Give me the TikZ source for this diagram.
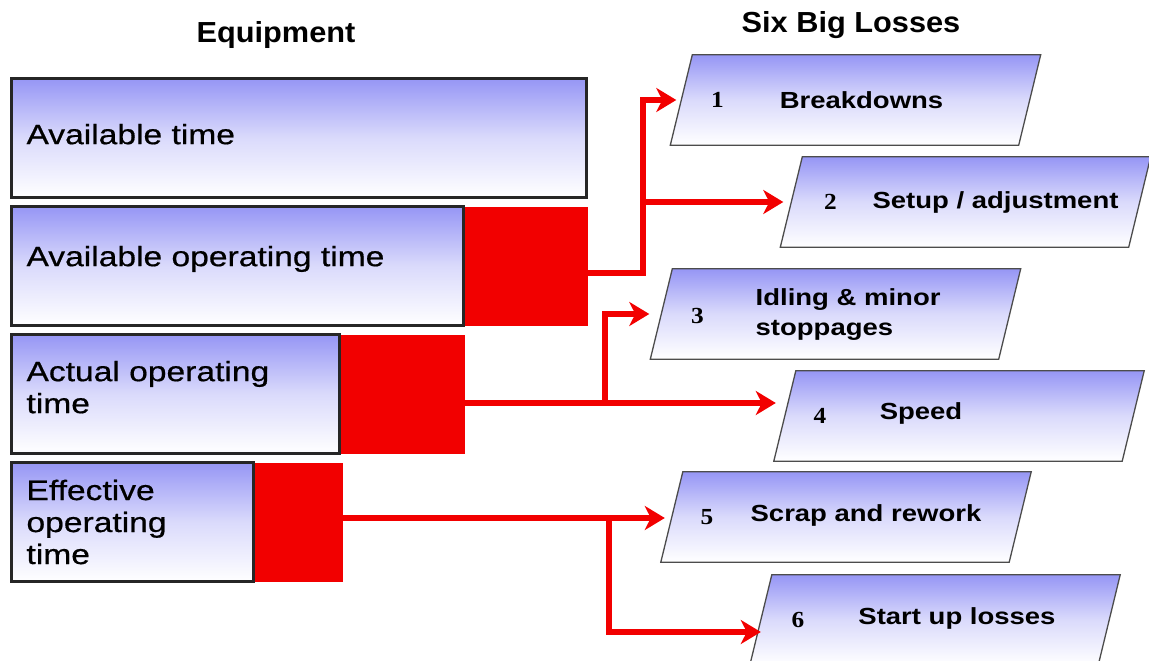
\documentclass[tikz,border=0pt]{standalone}
\usepackage{fontspec}
\setmainfont{Liberation Sans}
\newfontfamily\headfont{Liberation Sans}[FakeStretch=1.06]
\newfontfamily\boxfont{Liberation Sans}[FakeStretch=1.2,FakeBold=0.6]
\newfontfamily\lossfont{Liberation Sans}[FakeStretch=1.18]
\newfontfamily\numfont{Liberation Serif}[FakeStretch=1.1]
\usepackage{tikz}
\usetikzlibrary{positioning,arrows.meta}

\definecolor{lav}{RGB}{150,150,245}
\definecolor{lossred}{RGB}{242,0,0}

\tikzset{
  head/.style={font=\headfont\bfseries\fontsize{29}{34}\selectfont, inner sep=0pt},
  timebox/.style={draw=black!85, line width=3pt, top color=lav, bottom color=white,
    middle color=lav!35!white, inner xsep=15pt, inner ysep=0pt, align=left,
    minimum height=119pt, font=\boxfont\fontsize{28}{32}\selectfont},
  lossbar/.style={fill=lossred, inner sep=0pt, minimum height=119pt},
  lossbox/.style={inner sep=0pt, minimum width=348pt, minimum height=90pt},
  lossshape/.style={draw=black!70, line width=1.3pt, top color=lav, bottom color=white,
    middle color=lav!35!white},
  losstext/.style={font=\lossfont\bfseries\fontsize{23.3}{30}\selectfont, align=left, inner sep=0pt},
  numtext/.style={font=\numfont\bfseries\fontsize{23}{26}\selectfont, inner sep=0pt},
  link/.style={draw=lossred, line width=6pt, -{Stealth[length=20pt, width=24pt, inset=6pt]}}
}

\begin{document}
\begin{tikzpicture}[x=1pt,y=-1pt]
\useasboundingbox (0,0) rectangle (1149,661);
% headings
\node[head, anchor=base] (eq) at (276,42.7) {Equipment};
\node[head, anchor=base] (sbl) at (851,32.3) {Six Big Losses};
% equipment time bars
\node[timebox, text width=545pt, text depth=8pt, anchor=north west] (b1) at (10,77) {Available time};
\node[timebox, text width=422pt, text depth=20pt, below=6pt of b1.south west, anchor=north west] (b2) {Available operating time};
\node[timebox, text width=298pt, text depth=46pt, below=6pt of b2.south west, anchor=north west] (b3) {Actual operating\\time};
\node[timebox, text width=212pt, below=6pt of b3.south west, anchor=north west] (b4) {Effective\\operating\\time};
% lost time
\node[lossbar, minimum width=123pt, right=0pt of b2] (r2) {};
\node[lossbar, minimum width=124pt, right=0pt of b3] (r3) {};
\node[lossbar, minimum width=88pt, right=0pt of b4] (r4) {};
% losses
\node[lossbox] (l1) at (855.5,100) {};
\node[lossbox] (l2) at (965.5,202) {};
\node[lossbox] (l3) at (835.5,314) {};
\node[lossbox] (l4) at (959,416) {};
\node[lossbox] (l5) at (846,517) {};
\node[lossbox] (l6) at (935,620) {};
\path[lossshape] ([xshift=-11pt]l1.south west) -- ([xshift=-11pt]l1.south east) -- ([xshift=11pt]l1.north east) -- ([xshift=11pt]l1.north west) -- cycle;
\path[lossshape] ([xshift=-11pt]l2.south west) -- ([xshift=-11pt]l2.south east) -- ([xshift=11pt]l2.north east) -- ([xshift=11pt]l2.north west) -- cycle;
\path[lossshape] ([xshift=-11pt]l3.south west) -- ([xshift=-11pt]l3.south east) -- ([xshift=11pt]l3.north east) -- ([xshift=11pt]l3.north west) -- cycle;
\path[lossshape] ([xshift=-11pt]l4.south west) -- ([xshift=-11pt]l4.south east) -- ([xshift=11pt]l4.north east) -- ([xshift=11pt]l4.north west) -- cycle;
\path[lossshape] ([xshift=-11pt]l5.south west) -- ([xshift=-11pt]l5.south east) -- ([xshift=11pt]l5.north east) -- ([xshift=11pt]l5.north west) -- cycle;
\path[lossshape] ([xshift=-11pt]l6.south west) -- ([xshift=-11pt]l6.south east) -- ([xshift=11pt]l6.north east) -- ([xshift=11pt]l6.north west) -- cycle;
\node[numtext] (n1) at ([xshift=-138pt]l1.center) {1}; \node[losstext] (t1) at ([xshift=6pt]l1.center) {Breakdowns};
\node[numtext] (n2) at ([xshift=-135pt]l2.center) {2}; \node[losstext] (t2) at ([xshift=30pt]l2.center) {Setup / adjustment};
\node[numtext] (n3) at ([xshift=-138pt,yshift=-2pt]l3.center) {3}; \node[losstext, anchor=west] (t3) at ([xshift=-80pt,yshift=-1pt]l3.center) {Idling \& minor\\stoppages};
\node[numtext] (n4) at ([xshift=-139pt]l4.center) {4}; \node[losstext] (t4) at ([xshift=-38pt,yshift=3pt]l4.center) {Speed};
\node[numtext] (n5) at ([xshift=-139pt]l5.center) {5}; \node[losstext] (t5) at ([xshift=20pt,yshift=2pt]l5.center) {Scrap and rework};
\node[numtext] (n6) at ([xshift=-137pt]l6.center) {6}; \node[losstext] (t6) at ([xshift=22pt,yshift=2pt]l6.center) {Start up losses};
% arrows
\coordinate (j1) at (643,273);
\coordinate (j2) at (605,403);
\coordinate (j3) at (609,518);
\coordinate (k3) at (609,632);
\draw[link] (r2.east |- j1) -- (j1) |- ([xshift=-5pt]l1.west);
\draw[link] (j1 |- l2.west) -- ([xshift=-8pt]l2.west);
\draw[link] (r3.east |- j2) -- ([xshift=-9pt]l4.west |- j2);
\draw[link] (j2) |- ([xshift=-12pt]l3.west);
\draw[link] (r4.east |- j3) -- ([xshift=-7pt]l5.west |- j3);
\draw[link] (j3) -- (k3) -- (l6.west |- k3);
\end{tikzpicture}
\end{document}
